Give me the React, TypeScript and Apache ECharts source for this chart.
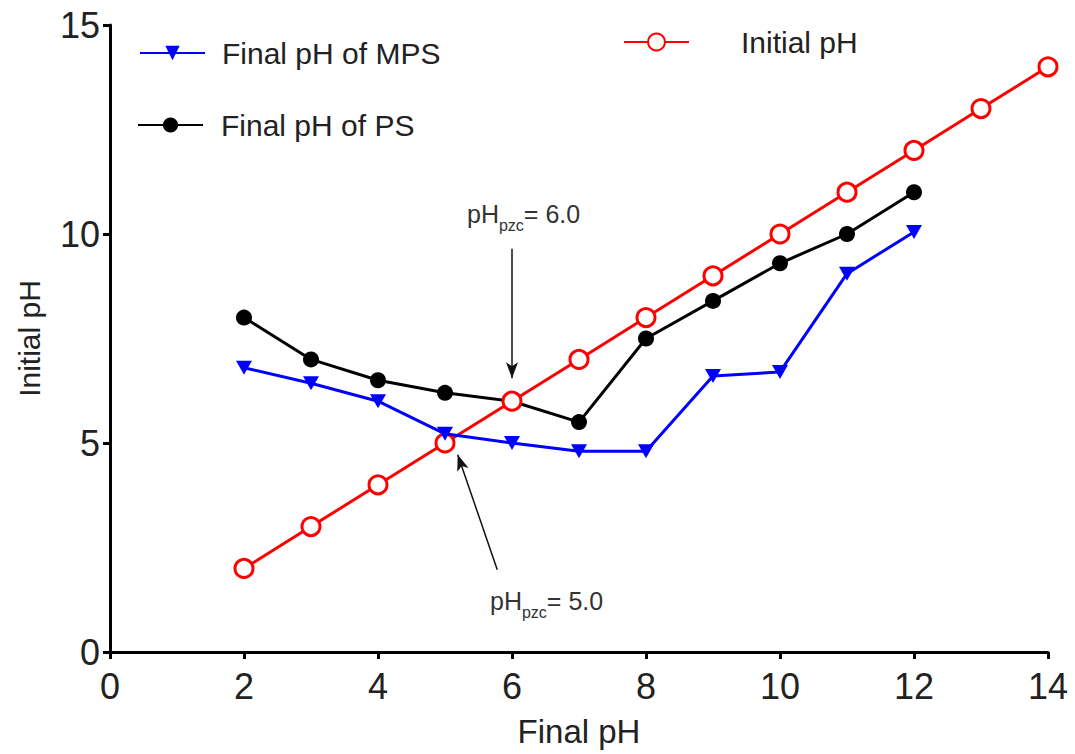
import React, { useEffect, useRef } from "react";
import * as echarts from "echarts";

const xValues = [2, 3, 4, 5, 6, 7, 8, 9, 10, 11, 12];
const initialX = [2, 3, 4, 5, 6, 7, 8, 9, 10, 11, 12, 13, 14];
const initialPH = [2, 3, 4, 5, 6, 7, 8, 9, 10, 11, 12, 13, 14];
const finalPS = [8.0, 7.0, 6.5, 6.2, 6.0, 5.5, 7.5, 8.4, 9.3, 10.0, 11.0];
const finalMPS = [6.8, 6.43, 6.0, 5.22, 5.0, 4.8, 4.8, 6.6, 6.7, 9.05, 10.05];

const FONT = "'Liberation Sans', Arial, sans-serif";

export default function App() {
  const ref = useRef<HTMLDivElement>(null);
  useEffect(() => {
    if (!ref.current) return;
    const chart = echarts.init(ref.current, null, { renderer: "svg" });
    const toPairs = (xs: number[], ys: number[]) => xs.map((x, i) => [x, ys[i]]);
    const rich = {
      a: { fontSize: 25, fill: "#333", color: "#333", fontFamily: FONT, verticalAlign: "bottom" },
      b: { fontSize: 16, fill: "#333", color: "#333", fontFamily: FONT, verticalAlign: "bottom", padding: [0, 0, -7, 0] },
    };
    chart.setOption({
      animation: false,
      backgroundColor: "#fff",
      textStyle: { fontFamily: FONT },
      grid: { left: 110, right: 27, top: 25, bottom: 102 },
      xAxis: {
        type: "value",
        min: 0,
        max: 14,
        interval: 2,
        name: "Final pH",
        nameLocation: "middle",
        nameGap: 63,
        nameTextStyle: { fontSize: 33, color: "#222", fontFamily: FONT },
        axisLine: { lineStyle: { color: "#000", width: 3 } },
        axisTick: { length: 7, lineStyle: { color: "#000", width: 3 } },
        axisLabel: { fontSize: 36, color: "#222", margin: 16, fontFamily: FONT },
        splitLine: { show: false },
      },
      yAxis: {
        type: "value",
        min: 0,
        max: 15,
        interval: 5,
        name: "Initial pH",
        nameLocation: "middle",
        nameGap: 66,
        nameTextStyle: { fontSize: 30, color: "#222", fontFamily: FONT },
        axisLine: { lineStyle: { color: "#000", width: 3 } },
        axisTick: { length: 7, lineStyle: { color: "#000", width: 3 } },
        axisLabel: { fontSize: 36, color: "#222", margin: 10, fontFamily: FONT },
        splitLine: { show: false },
      },
      legend: [
        {
          data: ["Final pH of MPS"],
          left: 134,
          top: 33,
          itemWidth: 65,
          itemHeight: 18,
          textStyle: { fontSize: 30, color: "#222", fontFamily: FONT, padding: [0, 0, 0, 12] },
        },
        {
          data: ["Final pH of PS"],
          left: 132,
          top: 105,
          itemWidth: 65,
          itemHeight: 19,
          textStyle: { fontSize: 30, color: "#222", fontFamily: FONT, padding: [0, 0, 0, 13] },
        },
        {
          data: ["Initial pH"],
          left: 618,
          top: 22,
          itemWidth: 65,
          itemHeight: 21,
          textStyle: { fontSize: 30, color: "#222", fontFamily: FONT, padding: [0, 0, 0, 47] },
        },
      ],
      series: [
        {
          name: "Initial pH",
          type: "line",
          data: toPairs(initialX, initialPH),
          symbol: "circle",
          symbolSize: 18,
          z: 3,
          lineStyle: { color: "#ff0000", width: 3 },
          itemStyle: { color: "#fff", borderColor: "#ff0000", borderWidth: 3 },
          markLine: {
            silent: true,
            symbol: ["none", "arrow"],
            symbolSize: [9, 16],
            label: { show: false },
            lineStyle: { color: "#111", width: 1.5, type: "solid" },
            data: [
              [{ coord: [6, 9.65] }, { coord: [6, 6.55] }],
              [{ coord: [5.78, 1.97] }, { coord: [5.19, 4.72] }],
            ],
          },
        },
        {
          name: "Final pH of PS",
          type: "line",
          data: toPairs(xValues, finalPS),
          symbol: "circle",
          symbolSize: 16,
          z: 2,
          lineStyle: { color: "#000", width: 3 },
          itemStyle: { color: "#000" },
        },
        {
          name: "Final pH of MPS",
          type: "line",
          data: toPairs(xValues, finalMPS),
          symbol: "triangle",
          symbolRotate: 180,
          symbolSize: [16, 14],
          z: 4,
          lineStyle: { color: "#0000ff", width: 3 },
          itemStyle: { color: "#0000ff" },
        },
      ],
      graphic: [
        {
          type: "text",
          left: 467,
          top: 201,
          style: { text: "{a|pH}{b|pzc}{a|= 6.0}", rich },
        },
        {
          type: "text",
          left: 490,
          top: 588,
          style: { text: "{a|pH}{b|pzc}{a|= 5.0}", rich },
        },
      ],
    });
    return () => chart.dispose();
  }, []);
  return <div ref={ref} style={{ width: 1075, height: 754, position: "absolute", left: 0, top: 0 }} />;
}
